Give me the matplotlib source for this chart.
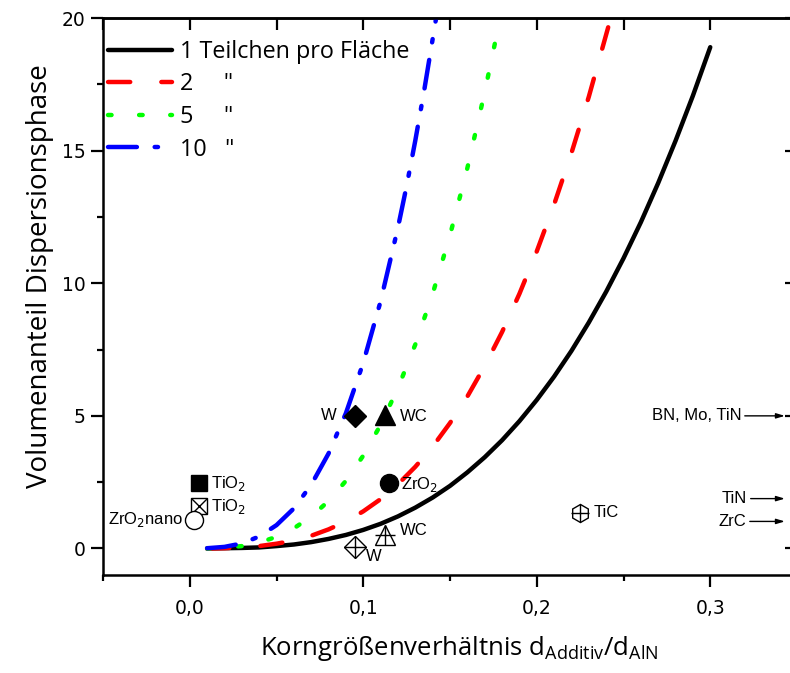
import matplotlib
matplotlib.use("Agg")
import matplotlib.pyplot as plt
from matplotlib.ticker import MultipleLocator, FuncFormatter
from matplotlib import font_manager

# curves (x = d_Additiv/d_AlN, y = Volumenanteil)
x_one = [0.01, 0.02, 0.03, 0.04, 0.05, 0.06, 0.07, 0.08, 0.09, 0.10, 0.11, 0.12, 0.13, 0.14, 0.15,
         0.16, 0.17, 0.18, 0.19, 0.20, 0.21, 0.22, 0.23, 0.24, 0.25, 0.26, 0.27, 0.28, 0.29, 0.30]
y_one = [0.0, 0.01, 0.02, 0.04, 0.09, 0.15, 0.24, 0.36, 0.51, 0.70, 0.93, 1.21, 1.54, 1.92, 2.36,
         2.87, 3.44, 4.08, 4.80, 5.60, 6.48, 7.45, 8.52, 9.68, 10.94, 12.30, 13.78, 15.37, 17.07, 18.90]

x_two = [0.01, 0.02, 0.03, 0.04, 0.05, 0.06, 0.07, 0.08, 0.09, 0.10, 0.11, 0.12, 0.13, 0.14,
         0.15, 0.16, 0.17, 0.18, 0.19, 0.20, 0.21, 0.22, 0.23, 0.2425]
y_two = [0.0, 0.01, 0.04, 0.09, 0.18, 0.30, 0.48, 0.72, 1.02, 1.40, 1.86, 2.42, 3.08, 3.84,
         4.73, 5.73, 6.88, 8.16, 9.60, 11.20, 12.97, 14.91, 17.03, 19.96]

x_five = [0.01, 0.02, 0.03, 0.04, 0.05, 0.06, 0.07, 0.08, 0.09, 0.10, 0.11, 0.12, 0.13, 0.14,
          0.15, 0.16, 0.17, 0.1765]
y_five = [0.0, 0.03, 0.09, 0.22, 0.44, 0.76, 1.20, 1.79, 2.55, 3.50, 4.66, 6.05, 7.69, 9.60,
          11.81, 14.34, 17.20, 19.24]

x_ten = [0.01, 0.02, 0.03, 0.04, 0.05, 0.06, 0.07, 0.08, 0.09, 0.10, 0.11, 0.12, 0.125, 0.13,
         0.135, 0.142]
y_ten = [0.01, 0.06, 0.19, 0.45, 0.88, 1.51, 2.40, 3.58, 5.10, 7.00, 9.32, 12.10, 13.67, 15.38,
         17.22, 20.0]

legend_labels = ["1 Teilchen pro Fläche", '2     "', '5     "', '10   "']

# measured additives: (x, y)
tio2_fill = (0.0052, 2.47)
tio2_box = (0.0052, 1.59)
zro2_nano = (0.0023, 1.07)
w_fill = (0.0951, 4.98)
wc_fill = (0.1128, 5.02)
zro2_fill = (0.1149, 2.47)
wc_open = (0.1124, 0.49)
w_open = (0.0951, 0.05)
tic_open = (0.2252, 1.32)

# off-scale additives (arrow y position)
off_labels = ["BN, Mo, TiN", "TiN", "ZrC"]
off_y = [5.0, 1.88, 1.02]

LABEL_FONT = "Open Sans"
TICK_FONT = "DejaVu Sans"
NOTE_FONT = "Liberation Sans"

fig = plt.figure(figsize=(7.9, 6.73), dpi=100)
ax = fig.add_axes([103 / 790, 98 / 673, 694 / 790, 557 / 673])

lw = 3.2
ax.plot(x_one, y_one, color="black", lw=lw, solid_capstyle="round", label=legend_labels[0])
ax.plot(x_two, y_two, color="#ff0000", lw=lw, dashes=(5, 7), dash_capstyle="round", label=legend_labels[1])
ax.plot(x_five, y_five, color="#00ff00", lw=lw, dashes=(0.8, 6.2), dash_capstyle="round", label=legend_labels[2])
ax.plot(x_ten, y_ten, color="#0000ff", lw=lw, dashes=(6.5, 4, 0.75, 4), dash_capstyle="round", label=legend_labels[3])

mk = dict(color="black", mew=1.0, ls="none")
ax.plot(*tio2_fill, marker="s", ms=11.5, mfc="black", **mk)
ax.plot(*tio2_box, marker="s", ms=11.5, mfc="white", **mk)
ax.plot(*tio2_box, marker="x", ms=11.5, **mk)
ax.plot(*zro2_nano, marker="o", ms=13, mfc="white", **mk)
ax.plot(*w_fill, marker="D", ms=11, mfc="black", **mk)
ax.plot(*wc_fill, marker="^", ms=15, mfc="black", **mk)
ax.plot(*zro2_fill, marker="o", ms=13, mfc="black", **mk)
ax.plot(*wc_open, marker="^", ms=15, mfc="none", **mk)
ax.plot(*wc_open, marker="+", ms=15, **mk)
ax.plot(*w_open, marker="D", ms=11, mfc="none", **mk)
ax.plot(*w_open, marker="+", ms=15.5, **mk)
ax.plot(*tic_open, marker="h", ms=13, mfc="none", **mk)
ax.plot(*tic_open, marker="+", ms=13, **mk)

note = dict(fontsize=12, family=NOTE_FONT, va="center")
ax.text(0.012, 2.45, "TiO$_2$", **note)
ax.text(0.012, 1.57, "TiO$_2$", **note)
ax.text(-0.004, 1.1, "ZrO$_2$nano", ha="right", **note)
ax.text(0.0845, 5.0, "W", ha="right", **note)
ax.text(0.121, 4.98, "WC", **note)
ax.text(0.1215, 2.4, "ZrO$_2$", **note)
ax.text(0.121, 0.68, "WC", **note)
ax.text(0.1015, -0.3, "W", **note)
ax.text(0.2325, 1.35, "TiC", **note)

arrow_x0 = [0.3199, 0.3233, 0.3228]
for label, y, x0 in zip(off_labels, off_y, arrow_x0):
    ax.annotate("", xy=(0.343, y), xytext=(x0, y),
                arrowprops=dict(arrowstyle="-|>,head_length=0.5,head_width=0.15", color="black",
                                lw=1.0, shrinkA=0, shrinkB=0))
    ax.text(x0 - 0.002, y, label, ha="right", **note)

ax.set_xlim(-0.05, 0.35)
ax.set_ylim(-1, 20)
ax.xaxis.set_major_locator(MultipleLocator(0.1))
ax.xaxis.set_minor_locator(MultipleLocator(0.05))
ax.yaxis.set_major_locator(MultipleLocator(5))
ax.yaxis.set_minor_locator(MultipleLocator(2.5))
ax.xaxis.set_major_formatter(FuncFormatter(lambda v, p: f"{v:.1f}".replace(".", ",")))
ax.yaxis.set_major_formatter(FuncFormatter(lambda v, p: f"{v:.0f}"))
ax.tick_params(which="major", direction="out", length=8.4, width=1.6, labelsize=13.5, pad=4)
ax.tick_params(which="minor", direction="out", length=4.3, width=1.6)
ax.tick_params(axis="x", which="major", pad=9)
for t in ax.get_xticklabels() + ax.get_yticklabels():
    t.set_family(TICK_FONT)
for s in ax.spines.values():
    s.set_linewidth(1.8)

top = ax.secondary_xaxis("top")
top.xaxis.set_major_locator(MultipleLocator(0.1))
top.xaxis.set_minor_locator(MultipleLocator(0.05))
top.tick_params(which="both", direction="in", length=8.4, width=1.6, labeltop=False)
top.spines["top"].set_linewidth(1.8)
right = ax.secondary_yaxis("right")
right.yaxis.set_major_locator(MultipleLocator(5))
right.yaxis.set_minor_locator(MultipleLocator(2.5))
right.tick_params(which="major", direction="in", length=8.4, width=1.6, labelright=False)
right.tick_params(which="minor", direction="in", length=4.3, width=1.6)

ax.set_xlabel("Korngrößenverhältnis d$_{\\mathregular{Additiv}}$/d$_{\\mathregular{AlN}}$",
              family=LABEL_FONT, fontsize=18.5)
ax.set_ylabel("Volumenanteil Dispersionsphase", family=LABEL_FONT, fontsize=20)
ax.xaxis.set_label_coords(0.514, -0.106)
ax.yaxis.set_label_coords(-0.07, 0.537)

ax.legend(loc="upper left", bbox_to_anchor=(0.007, 0.961), frameon=False, borderaxespad=0,
          borderpad=0, handlelength=2.75, handletextpad=0.35, labelspacing=0.37,
          prop=font_manager.FontProperties(family=LABEL_FONT, size=16.8))

fig.savefig("out.png", dpi=100)
